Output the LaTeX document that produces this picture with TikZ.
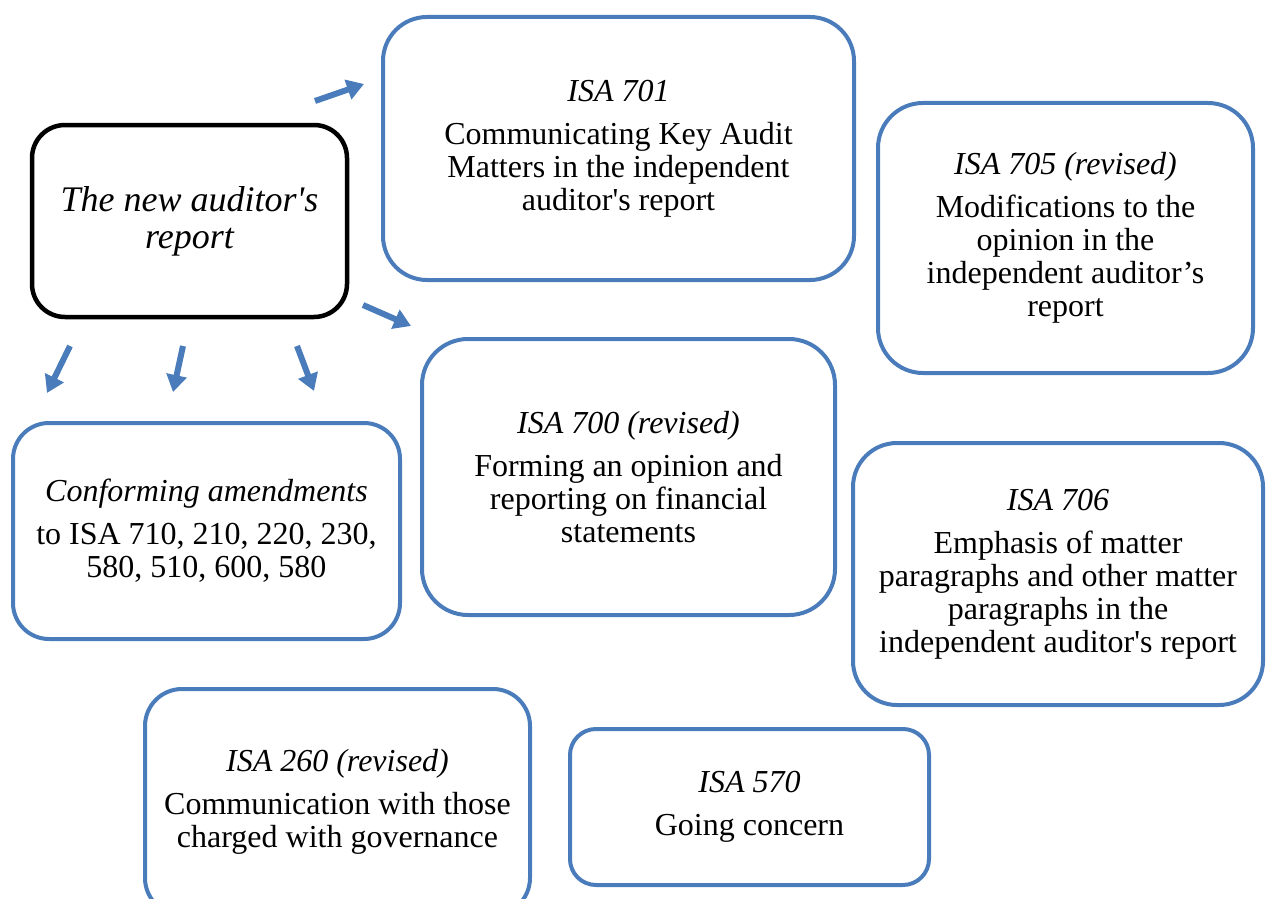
\documentclass[tikz,border=0pt]{standalone}
\usepackage{fontspec}
\setmainfont{Liberation Serif}[Ligatures=TeXOff]
\usetikzlibrary{arrows.meta}

\begin{document}
\begin{tikzpicture}[x=1pt,y=-1pt,
    isabox/.style={draw=blue-ish, line width=4pt, rounded corners=#1, align=center, inner sep=0pt,
        font=\fontsize{32}{33}\selectfont},
    isabox/.default=44pt,
    shortarrow/.style={blue-ish, line width=6pt, -{Triangle[length=17pt,width=20pt]}}]

    \definecolor{blue-ish}{RGB}{74,124,187}

    \useasboundingbox (0,0) rectangle (1270,899);

    \node [draw, line width=4.5pt, rounded corners=33pt, minimum width=315pt, minimum height=192pt,
        align=center, inner sep=0pt, font=\fontsize{36}{37}\selectfont\itshape] (report) at (189.5,221)
        {The new auditor's\\report};

    \node [isabox, minimum width=471pt, minimum height=263pt] (isa701) at (618.5,148.5)
        {\textit{ISA 701}\\[10pt]Communicating Key Audit\\Matters in the independent\\auditor's report};
    \node [isabox=45pt, minimum width=375pt, minimum height=270pt] (isa705) at (1065.5,238)
        {\textit{ISA 705 (revised)}\\[10pt]Modifications to the\\opinion in the\\independent auditor’s\\report};
    \node [isabox=46pt, minimum width=413pt, minimum height=276pt] (isa700) at (628.5,477)
        {\textit{ISA 700 (revised)}\\[10pt]Forming an opinion and\\reporting on financial\\statements};
    \node [isabox, minimum width=410pt, minimum height=262pt] (isa706) at (1058,574)
        {\textit{ISA 706}\\[10pt]Emphasis of matter\\paragraphs and other matter\\paragraphs in the\\independent auditor's report};
    \node [isabox=36pt, minimum width=387pt, minimum height=216pt] (amend) at (206.5,531)
        {\textit{Conforming amendments}\\[10pt]to ISA 710, 210, 220, 230,\\580, 510, 600, 580};
    \node [isabox=37pt, minimum width=385pt, minimum height=226pt] (isa260) at (337.5,802)
        {\textit{ISA 260 (revised)}\\[10pt]Communication with those\\charged with governance};
    \node [isabox=26pt, minimum width=359pt, minimum height=156pt] (isa570) at (749.5,807)
        {\textit{ISA 570}\\[10pt]Going concern};

    \path (315,101) coordinate (up1) --++ (49,-17) coordinate (up2);
    \path (363,305) coordinate (rt1) --++ (48,21) coordinate (rt2);
    \path (70,346) coordinate (dl1) --++ (-23,47) coordinate (dl2);
    \path (183,346) coordinate (dm1) --++ (-10,46) coordinate (dm2);
    \path (297,346) coordinate (dr1) --++ (17,45) coordinate (dr2);

    \draw[shortarrow] (up1) -- (up2);
    \draw[shortarrow] (rt1) -- (rt2);
    \draw[shortarrow] (dl1) -- (dl2);
    \draw[shortarrow] (dm1) -- (dm2);
    \draw[shortarrow] (dr1) -- (dr2);

\end{tikzpicture}
\end{document}
